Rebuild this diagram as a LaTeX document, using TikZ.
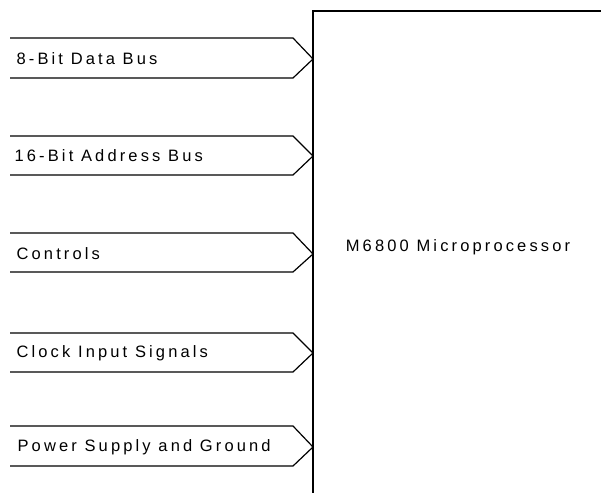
\documentclass[tikz,border=0pt]{standalone}
\usepackage{fontspec}
\setmainfont{Liberation Sans}[LetterSpace=19]
\usepackage{tikz}

\begin{document}
\begin{tikzpicture}[
        x=1pt, y=1pt,
        line width=1.2pt,
        font=\fontsize{16.5}{19}\selectfont,
        buslabel/.style={anchor=west, inner sep=0pt}
    ]
    \useasboundingbox (0,0) rectangle (601,493);

    % processor block, left open to the right and bottom
    \coordinate (edge) at (313,482);
    \draw (601,482) -- (edge) -- (313,0);
    \node (cpu) at (458,246) {M6800 Microprocessor};

    \node[buslabel] (data) at (16,434) {8-Bit Data Bus};
    \node[buslabel] (address) at (14,337) {16-Bit Address Bus};
    \node[buslabel] (controls) at (16,239) {Controls};
    \node[buslabel] (clock) at (16,140) {Clock Input Signals};
    \node[buslabel] (power) at (17,46) {Power Supply and Ground};

    \draw (10,455) -- (293,455) -- (data -| edge) -- (293,415) -- (10,415);
    \draw (10,357) -- (293,357) -- (address -| edge) -- (293,318) -- (10,318);
    \draw (10,260) -- (293,260) -- (controls -| edge) -- (293,221) -- (10,221);
    \draw (10,160) -- (293,160) -- (clock -| edge) -- (293,121) -- (10,121);
    \draw (10,67) -- (293,67) -- (power -| edge) -- (293,27) -- (10,27);

    \end{tikzpicture}
\end{document}
